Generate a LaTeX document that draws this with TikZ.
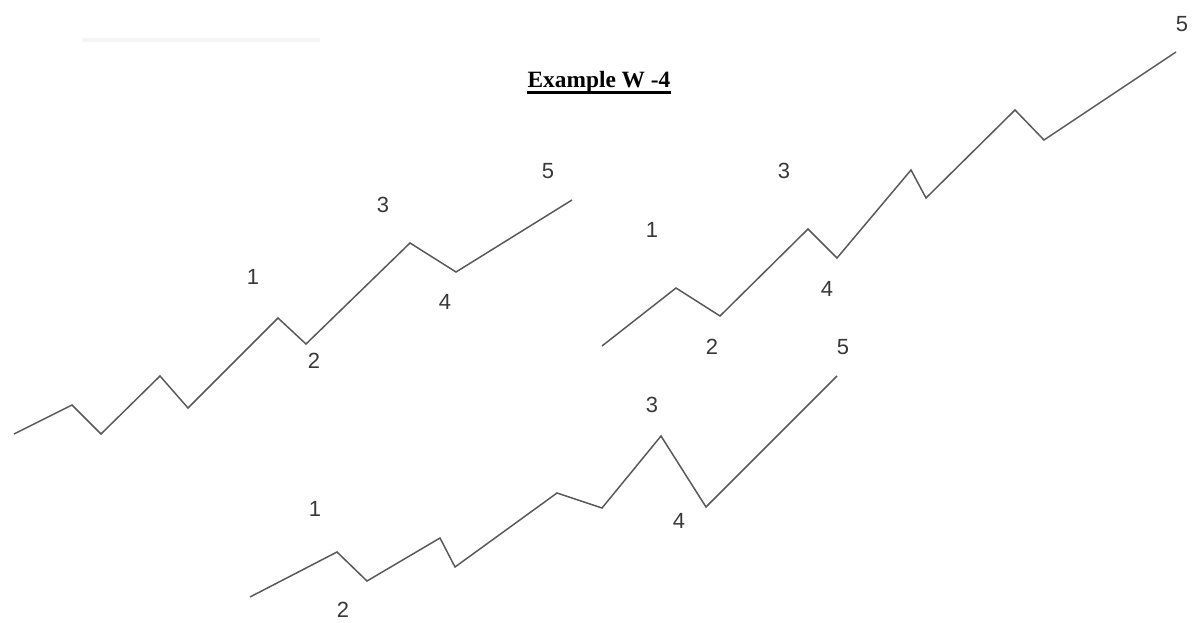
\documentclass[tikz,border=0pt]{standalone}
\usepackage{fontspec}
\setmainfont{Liberation Serif}
\newfontfamily\labelfont{Liberation Sans}

\begin{document}
\begin{tikzpicture}[x=0.02cm,y=-0.02cm,
    wave/.style={draw=black!65,line width=0.85pt,line join=miter},
    num/.style={font=\labelfont\fontsize{12.5}{12.5}\selectfont,text=black!78,inner sep=0pt}]
  \useasboundingbox (0,0) rectangle (1193,622);
  % faint smudge at the top
  \draw[black!4,line width=2pt] (82,40) -- (320,40);
  % title
  \node[font=\bfseries\fontsize{13.3}{13.3}\selectfont,inner sep=0pt,anchor=base] (title) at (599,87) {Example W -4};
  \draw[line width=1.4pt] ([yshift=-3pt]title.base west) -- ([yshift=-3pt]title.base east);
  % left wave
  \draw[wave] (14,434) -- (72,405) -- (101,434) -- (160,376) -- (188,408)
    -- (278,318) -- (306,344) -- (410,243) -- (456,272) -- (572,200);
  \node[num] (l1) at (253,277) {1};
  \node[num] (l2) at (314,361) {2};
  \node[num] (l3) at (383,205) {3};
  \node[num] (l4) at (445,302) {4};
  \node[num] (l5) at (548,171) {5};
  % right wave
  \draw[wave] (602,346) -- (676,288) -- (720,316) -- (808,229) -- (837,258)
    -- (911,170) -- (926,198) -- (1015,110) -- (1044,140) -- (1176,52);
  \node[num] (r1) at (652,230) {1};
  \node[num] (r2) at (712,347) {2};
  \node[num] (r3) at (784,171) {3};
  \node[num] (r4) at (827,289) {4};
  \node[num] (r5) at (1182,24) {5};
  % bottom wave
  \draw[wave] (250,597) -- (337,552) -- (367,581) -- (440,538) -- (455,567)
    -- (557,493) -- (602,508) -- (661,436) -- (706,507) -- (837,376);
  \node[num] (b1) at (315,509) {1};
  \node[num] (b2) at (343,610) {2};
  \node[num] (b3) at (652,405) {3};
  \node[num] (b4) at (679,521) {4};
  \node[num] (b5) at (843,347) {5};
\end{tikzpicture}
\end{document}
